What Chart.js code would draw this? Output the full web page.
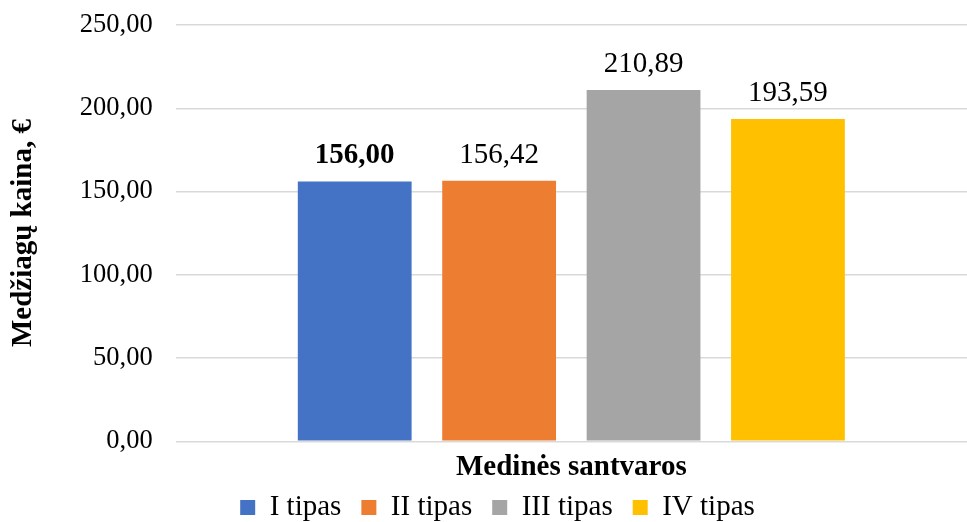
<!DOCTYPE html>
<html lang="lt">
<head>
  <meta charset="UTF-8" />
  <title>Medžiagų kaina</title>
  <script src="https://cdn.jsdelivr.net/npm/chart.js"></script>
  <style>
    body { margin: 0; background: #fff; }
    #wrap { width: 967px; height: 522px; }
  </style>
</head>
<body>
  <div id="wrap"><canvas id="chart"></canvas></div>
  <script>
    const categories = [''];
    const seriesNames = ['I tipas', 'II tipas', 'III tipas', 'IV tipas'];
    const prices = [156.00, 156.42, 210.89, 193.59];
    const colors = ['#4472C4', '#ED7D31', '#A5A5A5', '#FFC000'];
    const boldLabel = [true, false, false, false];

    const serif = "'Liberation Serif', 'Times New Roman', serif";
    const fmt = v => v.toFixed(2).replace('.', ',');

    // value labels above each bar
    const valueLabels = {
      id: 'valueLabels',
      afterDatasetsDraw(chart) {
        const ctx = chart.ctx;
        ctx.save();
        ctx.fillStyle = '#000';
        ctx.textAlign = 'center';
        ctx.textBaseline = 'alphabetic';
        chart.data.datasets.forEach((ds, i) => {
          const bar = chart.getDatasetMeta(i).data[0];
          ctx.font = (boldLabel[i] ? 'bold ' : '') + '29px ' + serif;
          ctx.fillText(fmt(ds.data[0]), bar.x, bar.y - 18);
        });
        ctx.restore();
      }
    };

    new Chart(document.getElementById('chart'), {
      type: 'bar',
      data: {
        labels: categories,
        datasets: seriesNames.map((name, i) => ({
          label: name,
          data: [prices[i]],
          backgroundColor: colors[i],
          categoryPercentage: 0.73,
          barPercentage: 0.788
        }))
      },
      options: {
        responsive: true,
        maintainAspectRatio: false,
        animation: false,
        layout: { padding: { top: 0, left: 6, right: -22, bottom: -10 } },
        scales: {
          x: {
            grid: { display: false },
            border: { display: false },
            ticks: { display: false },
            title: {
              display: true,
              text: 'Medinės santvaros',
              color: '#000',
              font: { family: serif, size: 29, weight: 'bold' },
              padding: { top: 1, bottom: -12 }
            }
          },
          y: {
            min: 0,
            max: 250,
            ticks: {
              stepSize: 50,
              color: '#000',
              padding: 23,
              // small lineHeight keeps the top margin tight
              font: { family: serif, size: 26.5, lineHeight: 0.15 },
              callback: v => fmt(v)
            },
            grid: { color: '#d9d9d9', lineWidth: 1.4, drawTicks: false },
            border: { display: false },
            title: {
              display: true,
              text: 'Medžiagų kaina, €',
              color: '#000',
              font: { family: serif, size: 29, weight: 'bold' },
              padding: { top: 0, bottom: 16 }
            }
          }
        },
        plugins: {
          legend: {
            position: 'bottom',
            labels: {
              color: '#000',
              font: { family: serif, size: 29 },
              boxWidth: 15,
              boxHeight: 15,
              padding: 20
            }
          },
          tooltip: { enabled: false }
        }
      },
      plugins: [valueLabels]
    });
  </script>
</body>
</html>
